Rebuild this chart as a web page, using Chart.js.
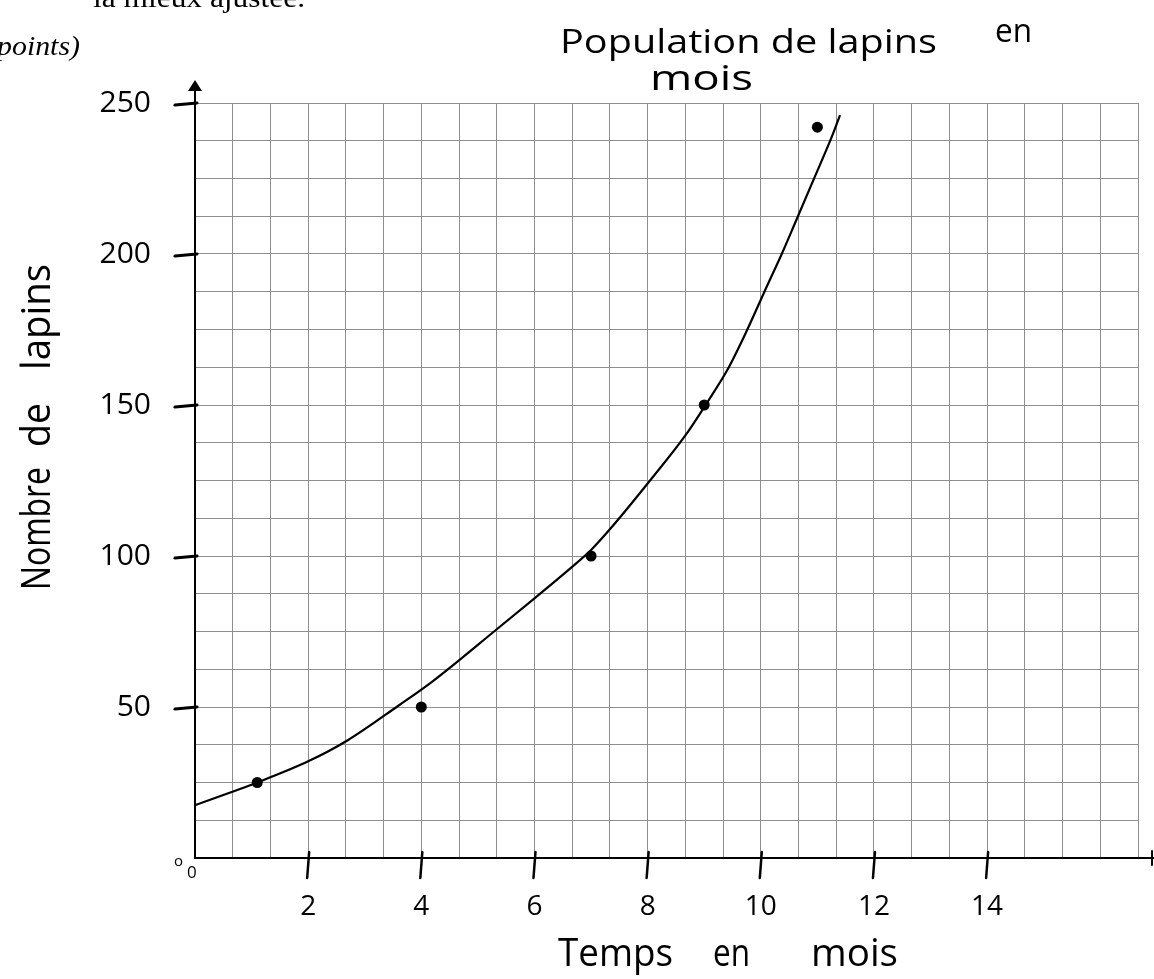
<!DOCTYPE html>
<html><head><meta charset="utf-8">
<script src="https://cdn.jsdelivr.net/npm/chart.js@4.4.1/dist/chart.umd.min.js"></script>
<style>html,body{margin:0;padding:0;background:#fff;}canvas{display:block;}</style>
</head><body>
<canvas id="c" width="1154" height="979"></canvas>
<script>
// ---- data ----
const months = [1.1, 4, 7, 9, 11];
const rabbits = [25, 50, 100, 150, 242];
const fitMonths  = [0, 1.1, 2, 2.7, 3.6, 4.2, 5.35, 6, 6.67, 7, 7.34, 8, 8.67, 9.04, 9.42, 9.75, 10.1, 10.37, 10.6, 10.93, 11.27, 11.4];
const fitRabbits = [17.5, 25, 32, 39, 50.5, 58.5, 76, 86, 96.5, 102, 109, 124, 140, 150.5, 162, 174.5, 189, 200, 210, 224.5, 239.5, 246];
const xTickLabels = [2, 4, 6, 8, 10, 12, 14];
const yTickLabels = [50, 100, 150, 200, 250];
const xGridCount = 25;   // grid cells, 3 cells per 2 months
const yGridCount = 20;   // grid cells, 4 cells per 50
const xMaxMonths = 50 / 3;
const yMaxRabbits = 250;

const HAND = '"Open Sans", "DejaVu Sans", sans-serif';

function drawFit(ctx, text, x, y, width, font) {
  ctx.font = font;
  const w = ctx.measureText(text).width;
  ctx.save();
  ctx.translate(x, y);
  ctx.scale(width / w, 1);
  ctx.textAlign = 'left';
  ctx.textBaseline = 'alphabetic';
  ctx.fillText(text, 0, 0);
  ctx.restore();
}

const decor = {
  id: 'decor',
  afterDraw(chart) {
    const ctx = chart.ctx;
    const xs = chart.scales.x, ys = chart.scales.y;
    const ca = chart.chartArea;
    ctx.save();
    ctx.fillStyle = '#000';
    ctx.strokeStyle = '#000';
    ctx.lineCap = 'round';

    // axis extensions + arrow
    ctx.lineWidth = 2;
    ctx.beginPath();
    ctx.moveTo(ca.left, ca.top); ctx.lineTo(ca.left, 88);
    ctx.moveTo(ca.right, ca.bottom); ctx.lineTo(1154, ca.bottom);
    ctx.stroke();
    ctx.beginPath();
    ctx.moveTo(ca.left, 80); ctx.lineTo(ca.left - 7, 91); ctx.lineTo(ca.left + 7, 91); ctx.closePath();
    ctx.fill();
    ctx.beginPath();
    ctx.moveTo(1152, ca.bottom - 7); ctx.lineTo(1152, ca.bottom + 7);
    ctx.stroke();

    // hand-drawn tick strokes
    ctx.lineWidth = 3;
    yTickLabels.forEach(v => {
      const py = ys.getPixelForValue(v);
      ctx.beginPath(); ctx.moveTo(ca.left - 20, py + 2); ctx.lineTo(ca.left + 2, py); ctx.stroke();
    });
    ctx.lineWidth = 2.5;
    xTickLabels.forEach(v => {
      const px = xs.getPixelForValue(v);
      ctx.beginPath(); ctx.moveTo(px + 1, ca.bottom - 6); ctx.lineTo(px - 1, ca.bottom + 20); ctx.stroke();
    });

    // origin marks
    ctx.font = '15px ' + HAND;
    ctx.textAlign = 'left'; ctx.textBaseline = 'alphabetic';
    ctx.fillText('o', 174, 866);
    ctx.font = '17px ' + HAND;
    ctx.fillText('0', 187, 878);

    // title
    drawFit(ctx, 'Population de lapins', 560, 53, 377, '32px ' + HAND);
    drawFit(ctx, 'en', 995, 42, 37, '32px ' + HAND);
    drawFit(ctx, 'mois', 650, 90, 103, '34px ' + HAND);

    // x title
    drawFit(ctx, 'Temps', 558, 966, 115, '38px ' + HAND);
    drawFit(ctx, 'en', 713, 966, 37, '38px ' + HAND);
    drawFit(ctx, 'mois', 811, 966, 87, '38px ' + HAND);

    // y title (rotated)
    const rot = (word, y0, len) => {
      ctx.save();
      ctx.translate(50, y0);
      ctx.rotate(-Math.PI / 2);
      drawFit(ctx, word, 0, 0, len, '40px ' + HAND);
      ctx.restore();
    };
    rot('Nombre', 590, 123);
    rot('de', 447, 44);
    rot('lapins', 370, 106);

    // fragments of the surrounding printed page
    drawFit(ctx, 'la mieux ajustée.', 93, 7, 212, '27px "Liberation Serif", serif');
    drawFit(ctx, 'points)', -3, 55, 83, 'italic 27px "Liberation Serif", serif');
    ctx.restore();
  }
};

new Chart(document.getElementById('c'), {
  type: 'scatter',
  data: {
    datasets: [
      {
        data: fitMonths.map((x, i) => ({ x, y: fitRabbits[i] })),
        showLine: true,
        borderColor: '#000',
        borderWidth: 2.2,
        pointRadius: 0,
        cubicInterpolationMode: 'monotone',
        fill: false
      },
      {
        data: months.map((x, i) => ({ x, y: rabbits[i] })),
        showLine: false,
        pointRadius: 5.5,
        pointBackgroundColor: '#000',
        pointBorderColor: '#000',
        pointBorderWidth: 0
      }
    ]
  },
  options: {
    responsive: false,
    animation: false,
    layout: { padding: { top: 103, right: 16, left: 0, bottom: 0 } },
    plugins: { legend: { display: false }, tooltip: { enabled: false }, title: { display: false } },
    scales: {
      x: {
        type: 'linear', min: 0, max: xMaxMonths,
        afterBuildTicks: s => { s.ticks = Array.from({ length: xGridCount + 1 }, (_, k) => ({ value: xMaxMonths * k / xGridCount })); },
        afterFit: s => { s.height = 121; s.paddingLeft = 0; s.paddingRight = 0; },
        grid: { color: '#8f8f8f', lineWidth: 1, drawTicks: false, tickLength: 0 },
        border: { display: true, color: '#000', width: 2 },
        ticks: {
          autoSkip: false, maxRotation: 0, padding: 32, color: '#000',
          font: { family: HAND, size: 28 },
          callback: v => { const l = xTickLabels.find(t => Math.abs(t - v) < 1e-6); return l === undefined ? '' : String(l); }
        }
      },
      y: {
        type: 'linear', min: 0, max: yMaxRabbits,
        afterBuildTicks: s => { s.ticks = Array.from({ length: yGridCount + 1 }, (_, k) => ({ value: yMaxRabbits * k / yGridCount })); },
        afterFit: s => { s.width = 195; },
        grid: { color: '#8f8f8f', lineWidth: 1, drawTicks: false, tickLength: 0 },
        border: { display: true, color: '#000', width: 2 },
        ticks: {
          autoSkip: false, padding: 44, color: '#000',
          font: { family: HAND, size: 30 },
          callback: v => { const l = yTickLabels.find(t => Math.abs(t - v) < 1e-6); return l === undefined ? '' : String(l); }
        }
      }
    }
  },
  plugins: [decor]
});
</script>
</body></html>
